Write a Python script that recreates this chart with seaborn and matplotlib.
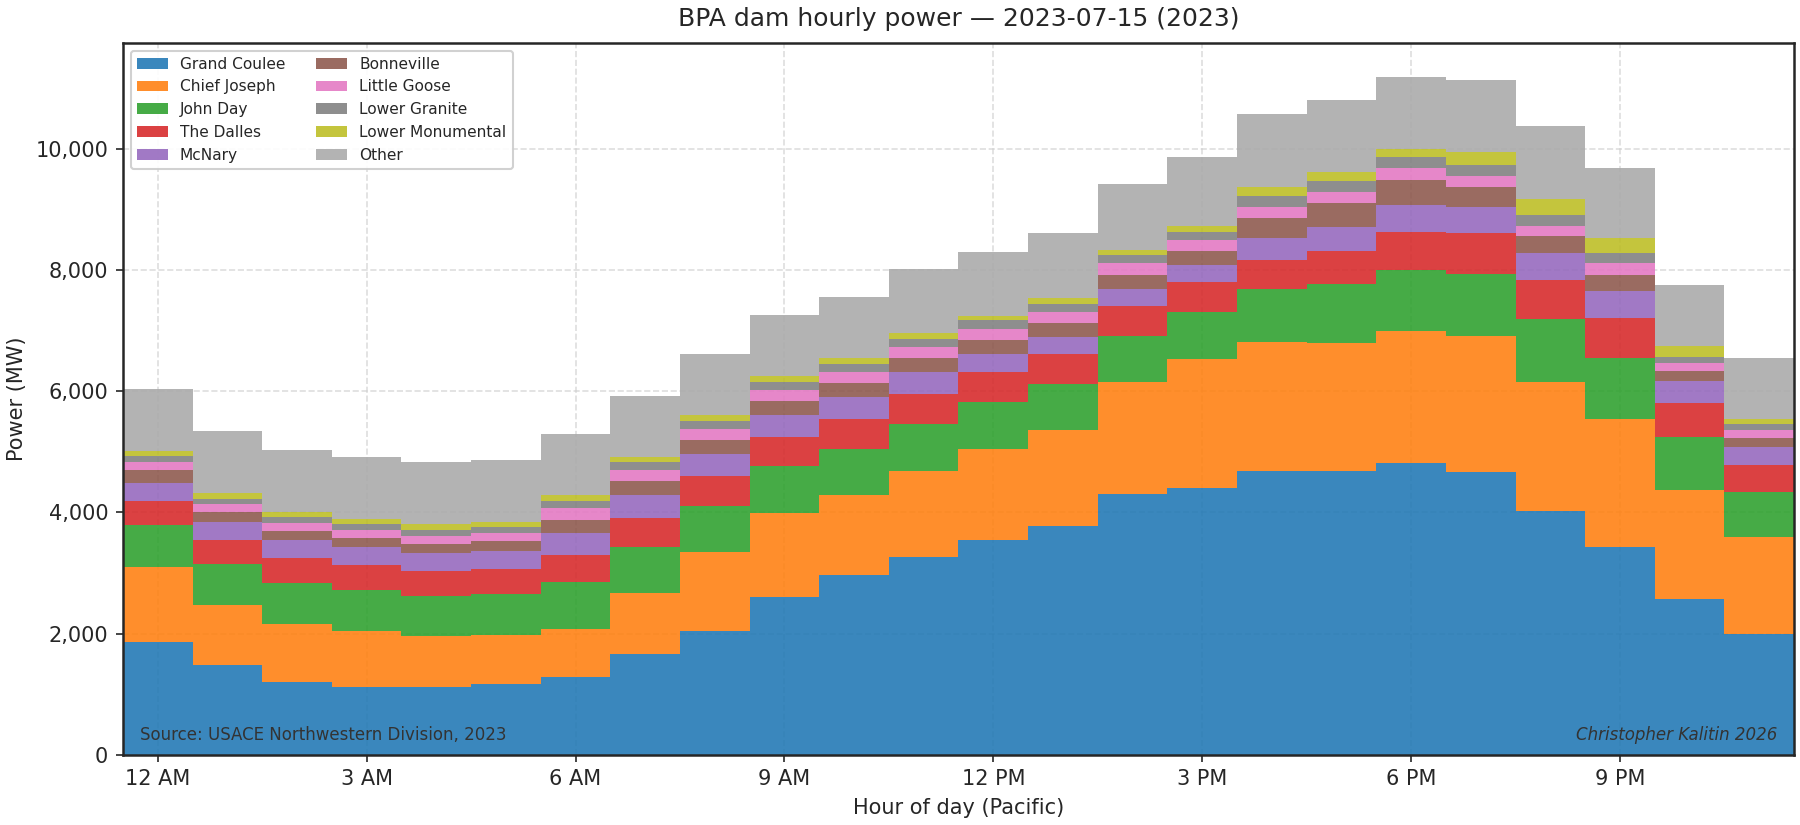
import matplotlib
matplotlib.use("Agg")
import matplotlib.pyplot as plt
import matplotlib.ticker as mticker
import numpy as np
import pandas as pd
import seaborn as sns

hours = list(range(24))
hour_labels = ["12 AM", "3 AM", "6 AM", "9 AM", "12 PM", "3 PM", "6 PM", "9 PM"]

# MW per hour
grand_coulee = [1865, 1478, 1198, 1122, 1122, 1175, 1289, 1668, 2047, 2608, 2971, 3267,
                3547, 3782, 4305, 4404, 4684, 4684, 4821, 4669, 4025, 3434, 2577, 1994]
chief_joseph = [1235, 1001, 962, 925, 834, 803, 788, 1008, 1303, 1387, 1319, 1417,
                1501, 1585, 1850, 2130, 2130, 2115, 2175, 2244, 2130, 2115, 1797, 1606]
john_day = [690, 674, 675, 674, 667, 683, 781, 758, 758, 773, 758, 781,
            781, 758, 758, 781, 880, 978, 1008, 1023, 1031, 1000, 871, 743]
the_dalles = [402, 394, 417, 417, 417, 409, 439, 477, 493, 477, 501, 493,
              493, 492, 500, 492, 477, 538, 630, 667, 652, 667, 561, 440]
mcnary = [295, 296, 295, 296, 295, 296, 364, 379, 364, 364, 363, 364,
          295, 281, 281, 281, 364, 387, 447, 440, 447, 440, 364, 303]
bonneville = [220, 167, 152, 144, 144, 166, 220, 235, 235, 235, 228, 227,
              235, 235, 227, 227, 326, 409, 409, 333, 280, 265, 167, 144]
little_goose = [129, 136, 129, 136, 137, 129, 197, 182, 182, 182, 182, 182,
                182, 182, 197, 182, 182, 182, 190, 182, 167, 197, 136, 137]
lower_granite = [99, 84, 98, 99, 98, 91, 114, 129, 129, 129, 129, 136,
                 137, 129, 129, 137, 182, 182, 189, 182, 182, 167, 99, 98]
lower_monumental = [75, 91, 84, 83, 99, 91, 91, 83, 91, 99, 98, 99,
                    68, 91, 91, 98, 151, 144, 129, 205, 250, 243, 182, 76]
other = [1031, 1023, 1023, 1023, 1023, 1023, 1015, 1009, 1015, 1008, 1008, 1054,
         1061, 1083, 1084, 1137, 1191, 1190, 1190, 1198, 1205, 1159, 993, 1008]

dams = ["Grand Coulee", "Chief Joseph", "John Day", "The Dalles", "McNary",
        "Bonneville", "Little Goose", "Lower Granite", "Lower Monumental", "Other"]

df = pd.DataFrame({
    "Grand Coulee": grand_coulee, "Chief Joseph": chief_joseph, "John Day": john_day,
    "The Dalles": the_dalles, "McNary": mcnary, "Bonneville": bonneville,
    "Little Goose": little_goose, "Lower Granite": lower_granite,
    "Lower Monumental": lower_monumental, "Other": other,
}, index=hours)

sns.set_style("ticks")
plt.rcParams["font.family"] = ["DejaVu Sans"]

palette = sns.color_palette("tab10", 9) + ["darkgray"]

fig, ax = plt.subplots(figsize=(12, 5.5), dpi=150)

# step edges: each hour covers [h-0.5, h+0.5]
edges = np.array(hours + [24]) - 0.5
ys = [np.append(df[d].values, df[d].values[-1]) for d in dams]
ax.stackplot(edges, ys, labels=dams, colors=palette, step="post", alpha=0.88, linewidth=0)

ax.set_xlim(-0.5, 23.5)
ax.set_ylim(0, df.sum(axis=1).max() * 1.05)
ax.set_xticks(hours[::3])
ax.set_xticklabels(hour_labels)
ax.yaxis.set_major_formatter(mticker.FuncFormatter(lambda v, p: f"{v:,.0f}"))
ax.grid(True, linestyle="--", color="#d0d0d0", alpha=0.7)
for s in ax.spines.values():
    s.set_color("#262626")
    s.set_linewidth(1.2)

ax.set_title("BPA dam hourly power \u2014 2023-07-15 (2023)", fontsize=12, pad=8)
ax.set_xlabel("Hour of day (Pacific)", fontsize=10)
ax.set_ylabel("Power (MW)", fontsize=10)
ax.legend(loc="upper left", ncol=2, fontsize=7.4, labelspacing=0.5, frameon=True, framealpha=0.9)

ax.text(0.01, 0.015, "Source: USACE Northwestern Division, 2023", transform=ax.transAxes,
        fontsize=8, color="#333333", ha="left", va="bottom")
ax.text(0.99, 0.015, "Christopher Kalitin 2026", transform=ax.transAxes,
        fontsize=8, color="#333333", ha="right", va="bottom", style="italic")

fig.subplots_adjust(left=0.0683, right=0.9967, top=0.948, bottom=0.085)
plt.savefig("out.png")
